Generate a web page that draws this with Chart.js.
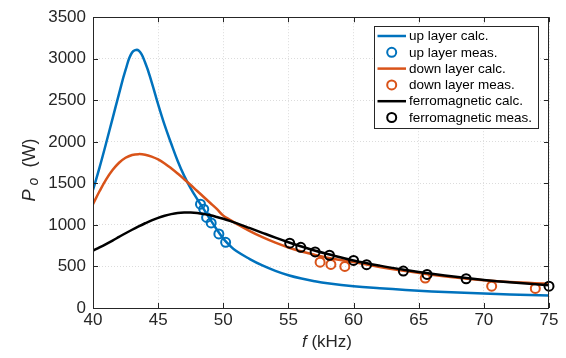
<!DOCTYPE html>
<html>
<head>
<meta charset="utf-8">
<script src="https://cdn.jsdelivr.net/npm/chart.js@4/dist/chart.umd.min.js"></script>
<style>
  html, body { margin: 0; padding: 0; background: #fff; }
  #wrap { width: 566px; height: 358px; position: relative; }
</style>
</head>
<body>
<div id="wrap"><canvas id="chart"></canvas></div>
<script>
// frequency grid for the calculated curves (kHz)
const FREQ = [40, 40.5, 41, 41.5, 42, 42.5, 43, 43.5, 44, 44.5, 45, 45.5, 46, 46.5, 47, 47.5, 48, 48.5, 49, 49.5, 50,
  50.5, 51, 52, 53, 54, 55, 56, 57, 58, 60, 62, 64, 66, 68, 70, 72, 75];

const UP_CALC = [1420, 1690, 1980, 2280, 2580, 2865, 3075, 3100, 2955, 2720, 2450, 2200, 1980, 1770, 1590, 1440, 1310, 1190, 1065, 945, 835,
  752, 685, 592, 512, 447, 394, 354, 323, 298, 262, 238, 218, 200, 186, 174, 163, 150];

const DOWN_CALC = [1251, 1405, 1545, 1660, 1748, 1808, 1842, 1852, 1845, 1822, 1788, 1740, 1682, 1618, 1550, 1480, 1408, 1336, 1264, 1192, 1112,
  1062, 1015, 928, 852, 786, 728, 680, 640, 606, 552, 494, 444, 400, 364, 334, 312, 292];

const FERRO_CALC = [692, 730, 770, 812, 856, 900, 942, 982, 1020, 1055, 1085, 1110, 1130, 1144, 1150, 1150, 1144, 1132, 1116, 1096, 1074,
  1049, 1022, 964, 905, 847, 792, 740, 692, 650, 572, 510, 458, 412, 372, 338, 310, 275];

// measurements
const UP_MEAS_F = [48.25, 48.5, 48.72, 49.07, 49.66, 50.18];
const UP_MEAS_P = [1250, 1190, 1090, 1024, 892, 791];

const DOWN_MEAS_F = [57.43, 58.26, 59.33, 65.5, 70.6, 73.95];
const DOWN_MEAS_P = [552, 524, 500, 360, 262, 235];

const FERRO_MEAS_F = [55.1, 55.95, 57.05, 58.15, 60, 61, 63.82, 65.64, 68.64, 75];
const FERRO_MEAS_P = [780, 731, 675, 635, 572, 522, 444, 404, 352, 262];

const LABELS = ['up layer calc.', 'up layer meas.', 'down layer calc.', 'down layer meas.', 'ferromagnetic calc.', 'ferromagnetic meas.'];

const X_TICKS = [40, 45, 50, 55, 60, 65, 70, 75];
const Y_TICKS = [0, 500, 1000, 1500, 2000, 2500, 3000, 3500];

const BLUE = '#0072BD';
const ORANGE = '#D95319';
const BLACK = '#000000';
const FONT = "'Liberation Sans', Arial, sans-serif";
const AXIS_COLOR = '#262626';

const toPoints = (xs, ys) => xs.map((x, i) => ({ x, y: ys[i] }));

const lineSet = (label, ys, color, order) => ({
  label,
  data: toPoints(FREQ, ys),
  showLine: true,
  borderColor: color,
  backgroundColor: color,
  borderWidth: 2.5,
  pointRadius: 0,
  tension: 0.4,
  order
});

const markSet = (label, xs, ys, color, order) => ({
  label,
  data: toPoints(xs, ys),
  showLine: false,
  borderColor: color,
  backgroundColor: 'rgba(0,0,0,0)',
  borderWidth: 2,
  pointRadius: 4.5,
  pointStyle: 'circle',
  clip: false,
  order
});

const datasets = [
  lineSet(LABELS[0], UP_CALC, BLUE, 6),
  markSet(LABELS[1], UP_MEAS_F, UP_MEAS_P, BLUE, 5),
  lineSet(LABELS[2], DOWN_CALC, ORANGE, 4),
  markSet(LABELS[3], DOWN_MEAS_F, DOWN_MEAS_P, ORANGE, 3),
  lineSet(LABELS[4], FERRO_CALC, BLACK, 2),
  markSet(LABELS[5], FERRO_MEAS_F, FERRO_MEAS_P, BLACK, 1)
];

// box, inward ticks, axis titles
const frame = {
  id: 'frame',
  afterDatasetsDraw(chart) {
    const { ctx, chartArea: a, scales } = chart;
    ctx.save();
    ctx.strokeStyle = AXIS_COLOR;
    ctx.lineWidth = 1;
    ctx.strokeRect(Math.round(a.left) + 0.5, Math.round(a.top) + 0.5,
      Math.round(a.right - a.left) - 1, Math.round(a.bottom - a.top));

    const len = 5;
    ctx.beginPath();
    X_TICKS.forEach(v => {
      const x = Math.round(scales.x.getPixelForValue(v)) + 0.5;
      ctx.moveTo(x, a.bottom); ctx.lineTo(x, a.bottom - len);
      ctx.moveTo(x, a.top); ctx.lineTo(x, a.top + len);
    });
    Y_TICKS.forEach(v => {
      const y = Math.round(scales.y.getPixelForValue(v)) + 0.5;
      ctx.moveTo(a.left, y); ctx.lineTo(a.left + len, y);
      ctx.moveTo(a.right, y); ctx.lineTo(a.right - len, y);
    });
    ctx.stroke();

    // x title: italic f (kHz)
    ctx.fillStyle = AXIS_COLOR;
    ctx.textBaseline = 'alphabetic';
    const cx = (a.left + a.right) / 2 + 6;
    ctx.font = `italic 17px ${FONT}`;
    const wf = ctx.measureText('f').width;
    ctx.font = `17px ${FONT}`;
    const wr = ctx.measureText(' (kHz)').width;
    let x0 = cx - (wf + wr) / 2;
    ctx.font = `italic 17px ${FONT}`;
    ctx.fillText('f', x0, 347);
    ctx.font = `17px ${FONT}`;
    ctx.fillText(' (kHz)', x0 + wf, 347);

    // y title: P_o (W), rotated
    ctx.translate(35, 170);
    ctx.rotate(-Math.PI / 2);
    ctx.font = `italic 18px ${FONT}`;
    const wp = ctx.measureText('P').width;
    ctx.font = `italic 14px ${FONT}`;
    const wo = ctx.measureText('o').width;
    ctx.font = `18px ${FONT}`;
    const ww = ctx.measureText('(W)').width;
    const gap1 = 4, gap2 = 10;
    x0 = -(wp + gap1 + wo + gap2 + ww) / 2;
    ctx.font = `italic 18px ${FONT}`;
    ctx.fillText('P', x0, 0);
    ctx.font = `italic 14px ${FONT}`;
    ctx.fillText('o', x0 + wp + gap1, 3);
    ctx.font = `18px ${FONT}`;
    ctx.fillText('(W)', x0 + wp + gap1 + wo + gap2, 0);
    ctx.restore();
  }
};

// legend box in the upper right corner
const legendBox = {
  id: 'legendBox',
  afterDraw(chart) {
    const { ctx } = chart;
    const box = { left: 374.5, top: 26.5, width: 164, height: 102 };
    ctx.save();
    ctx.fillStyle = '#ffffff';
    ctx.fillRect(box.left, box.top, box.width, box.height);
    ctx.strokeStyle = AXIS_COLOR;
    ctx.lineWidth = 1;
    ctx.strokeRect(box.left, box.top, box.width, box.height);

    ctx.font = `13.5px ${FONT}`;
    ctx.textBaseline = 'middle';
    chart.data.datasets.forEach((ds, i) => {
      const y = 36 + i * 16.3;
      if (ds.showLine) {
        ctx.strokeStyle = ds.borderColor;
        ctx.lineWidth = 2.5;
        ctx.beginPath();
        ctx.moveTo(377.5, y);
        ctx.lineTo(406, y);
        ctx.stroke();
      } else {
        ctx.strokeStyle = ds.borderColor;
        ctx.lineWidth = 2;
        ctx.beginPath();
        ctx.arc(391.7, y, 4.5, 0, Math.PI * 2);
        ctx.stroke();
      }
      ctx.fillStyle = '#000';
      ctx.fillText(ds.label, 409, y + 0.5);
    });
    ctx.restore();
  }
};

new Chart(document.getElementById('chart'), {
  type: 'scatter',
  data: { datasets },
  options: {
    responsive: true,
    maintainAspectRatio: false,
    animation: false,
    events: [],
    layout: { padding: { left: 0, right: 17, top: 16, bottom: 0 } },
    plugins: {
      legend: { display: false },
      tooltip: { enabled: false }
    },
    scales: {
      x: {
        type: 'linear',
        min: 40,
        max: 75,
        afterBuildTicks: scale => { scale.ticks = X_TICKS.map(value => ({ value })); },
        afterFit: scale => { scale.height = 50; },
        ticks: { color: AXIS_COLOR, font: { family: FONT, size: 17 }, padding: 2, maxRotation: 0, callback: v => String(v) },
        grid: { color: '#dcdcdc', drawTicks: false, lineWidth: 1 },
        border: { display: false, dash: [1, 2] }
      },
      y: {
        min: 0,
        max: 3500,
        afterBuildTicks: scale => { scale.ticks = Y_TICKS.map(value => ({ value })); },
        afterFit: scale => { scale.width = 93; },
        ticks: { color: AXIS_COLOR, font: { family: FONT, size: 17 }, padding: 7, callback: v => String(v) },
        grid: { color: '#dcdcdc', drawTicks: false, lineWidth: 1 },
        border: { display: false, dash: [1, 2] }
      }
    }
  },
  plugins: [frame, legendBox]
});
</script>
</body>
</html>
